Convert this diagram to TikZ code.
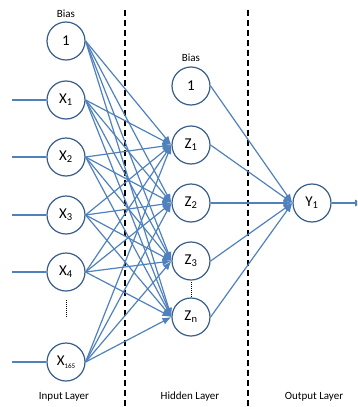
\documentclass[tikz,border=0pt]{standalone}
\usepackage{fontspec}
\setmainfont{Carlito}
\usetikzlibrary{arrows.meta}
\definecolor{edgeblue}{RGB}{79,129,189}
\definecolor{ringblue}{RGB}{56,93,138}
\begin{document}
\begin{tikzpicture}[x=1pt,y=-1pt,
  neuron/.style={circle,draw=ringblue,line width=1.2pt,minimum size=38pt,inner sep=0pt,fill=white,font=\fontsize{15}{17}\selectfont},
  conn/.style={draw=edgeblue,line width=1.2pt,-{Latex[length=9pt,width=7pt]}},
  plainline/.style={draw=edgeblue,line width=1.2pt},
  sepline/.style={line width=1.5pt,dash pattern=on 6pt off 4pt},
  dotline/.style={line width=1pt,dash pattern=on 1pt off 1pt},
  lbl/.style={font=\fontsize{11}{13}\selectfont}]
\clip (0,0) rectangle (357,407);
% separators
\draw[sepline] (125,10) -- (125,407);
\draw[sepline] (248,10) -- (248,407);
% input layer
\node[lbl] (bl1) at (66,14) {Bias};
\node[neuron] (b1) at (66,41) {1};
\node[neuron] (x1) at (66,100) {X\textsubscript{1}};
\node[neuron] (x2) at (66,157) {X\textsubscript{2}};
\node[neuron] (x3) at (66,215) {X\textsubscript{3}};
\node[neuron] (x4) at (66,272) {X\textsubscript{4}};
\node[neuron] (x5) at (66,362) {X{\fontsize{7}{8}\selectfont\raisebox{-2.5pt}{165}}};
\coordinate (d1a) at (66,300);
\coordinate (d1b) at (66,318);
\draw[dotline] (d1a) -- (d1b);
% hidden layer
\node[lbl] (bl2) at (191,58) {Bias};
\node[neuron] (b2) at (191,86) {1};
\node[neuron] (z1) at (191,145) {Z\textsubscript{1}};
\node[neuron] (z2) at (191,203) {Z\textsubscript{2}};
\node[neuron] (z3) at (191,261) {Z\textsubscript{3}};
\node[neuron] (zn) at (191,317) {Z\textsubscript{n}};
\coordinate (d2a) at (191,282);
\coordinate (d2b) at (191,297);
\draw[dotline] (d2a) -- (d2b);
% output layer
\node[neuron] (y1) at (312,203) {Y\textsubscript{1}};
% input stubs
\foreach \n in {x1,x2,x3,x4,x5} {
  \coordinate (s\n) at (12,0 |- \n);
  \draw[plainline] (s\n) -- (\n.west);
}
% input -> hidden
\foreach \s in {b1,x1,x2,x3,x4,x5} {
  \foreach \t in {z1,z2,z3,zn} {
    \draw[conn] (\s.east) -- (\t.west);
  }
}
% hidden -> output
\foreach \s in {b2,z1,z2,z3,zn} {
  \draw[conn] (\s.east) -- (y1.west);
}
\coordinate (out) at (364,203);
\draw[conn] (y1.east) -- (out);
% layer labels
\node[lbl] (l1) at (64,397) {Input Layer};
\node[lbl] (l2) at (190,397) {Hidden Layer};
\node[lbl] (l3) at (314,397) {Output Layer};
\end{tikzpicture}
\end{document}
